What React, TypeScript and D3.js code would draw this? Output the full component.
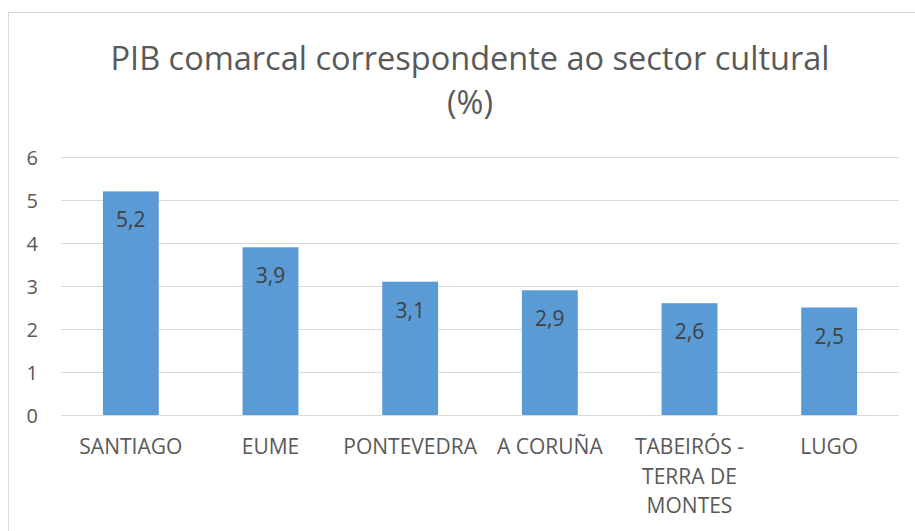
import React from "react";
import * as d3 from "d3";

const categories: string[][] = [
  ["SANTIAGO"],
  ["EUME"],
  ["PONTEVEDRA"],
  ["A CORUÑA"],
  ["TABEIRÓS -", "TERRA DE", "MONTES"],
  ["LUGO"],
];
const values: number[] = [5.2, 3.9, 3.1, 2.9, 2.6, 2.5];
const yTicks: number[] = [0, 1, 2, 3, 4, 5, 6];
const titleLines: string[] = ["PIB comarcal correspondente ao sector cultural", "(%)"];

const W = 915;
const H = 531;
const FONT = "'Open Sans', 'Noto Sans', sans-serif";

export default function App() {
  const x = d3
    .scaleBand<number>()
    .domain(values.map((_, i) => i))
    .range([61, 899])
    .paddingInner(0.6)
    .paddingOuter(0.3);
  const y = d3.scaleLinear().domain([0, 6]).range([415, 157]);
  const fmt = (v: number) => v.toFixed(1).replace(".", ",");

  return (
    <svg
      width={W}
      height={H}
      style={{ position: "absolute", left: 0, top: 0 }}
      fontFamily={FONT}
    >
      <rect x={0} y={0} width={W} height={H} fill="#fff" />
      <rect x={8.5} y={12.5} width={W + 20} height={H + 20} fill="#fff" stroke="#D9D9D9" strokeWidth={1} />
      {titleLines.map((t, i) => (
        <text
          key={i}
          x={470}
          y={70 + i * 44}
          textAnchor="middle"
          fontSize={32.5}
          fill="#595959"
        >
          {t}
        </text>
      ))}
      {yTicks.map((t) => (
        <g key={t}>
          <line x1={61} x2={899} y1={Math.round(y(t)) + 0.5} y2={Math.round(y(t)) + 0.5} stroke="#D9D9D9" strokeWidth={1} />
          <text x={38} y={y(t) + 7.5} textAnchor="end" fontSize={20} fill="#595959">
            {t}
          </text>
        </g>
      ))}
      {values.map((v, i) => (
        <g key={i}>
          <rect x={x(i)} y={y(v)} width={x.bandwidth()} height={y(0) - y(v)} fill="#5B9BD5" />
          <text
            x={(x(i) as number) + x.bandwidth() / 2}
            y={y(v) + 36}
            textAnchor="middle"
            fontSize={21}
            fill="#404040"
          >
            {fmt(v)}
          </text>
        </g>
      ))}
      {categories.map((lines, i) => (
        <text
          key={i}
          x={(x(i) as number) + x.bandwidth() / 2}
          textAnchor="middle"
          fontSize={21}
          fill="#595959"
        >
          {lines.map((l, j) => (
            <tspan key={j} x={(x(i) as number) + x.bandwidth() / 2} y={454 + j * 29.5}>
              {l}
            </tspan>
          ))}
        </text>
      ))}
    </svg>
  );
}
